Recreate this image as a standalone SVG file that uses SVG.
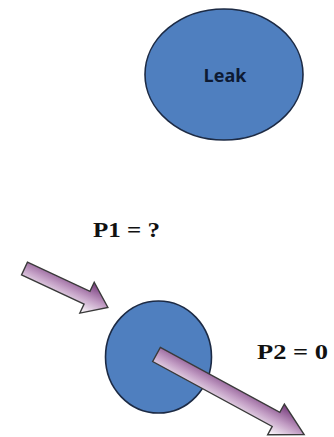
<svg xmlns="http://www.w3.org/2000/svg" width="334" height="437" viewBox="0 0 334 437">
<defs>
<linearGradient id="ag" x1="0" y1="0" x2="0" y2="1">
<stop offset="0" stop-color="#74387a"/>
<stop offset="0.5" stop-color="#c29dc4"/>
<stop offset="1" stop-color="#ffffff"/>
</linearGradient>
</defs>
<style>
.blob{fill:#4f7fbf;stroke:#1c2a44;stroke-width:1.6}
.arrow{fill:url(#ag);stroke:#3a3a3a;stroke-width:1.4;stroke-linejoin:miter}
.lbl{font-family:"Liberation Serif","Times New Roman",serif;font-weight:bold;fill:#111}
.leak{font-family:"Open Sans","Liberation Sans",sans-serif;font-weight:700;font-size:18px;fill:#0d1a33}
</style>
<rect width="334" height="437" fill="#fff"/>
<g id="leak">
<ellipse class="blob" cx="224" cy="74.5" rx="79" ry="65.5"/>
<text class="leak" x="225" y="82" text-anchor="middle">Leak</text>
</g>
<g id="node-circle">
<ellipse class="blob" cx="158.5" cy="357" rx="53" ry="56"/>
</g>
<g id="connectors">
<path class="arrow" transform="translate(24.5,268.5) rotate(25)" d="M0,-7 L69,-7 L69,-17 L92,0 L69,17 L69,7 L0,7 Z"/>
<path class="arrow" transform="translate(156.5,354.5) rotate(28.5)" d="M0,-8 L136,-8 L136,-17.5 L168,0 L136,17.5 L136,8 L0,8 Z"/>
</g>
<g id="labels">
<text class="lbl" x="93" y="237" font-size="20" textLength="67" lengthAdjust="spacingAndGlyphs">P1 = ?</text>
<text class="lbl" x="257" y="359" font-size="22" textLength="71" lengthAdjust="spacingAndGlyphs">P2 = 0</text>
</g>
</svg>
